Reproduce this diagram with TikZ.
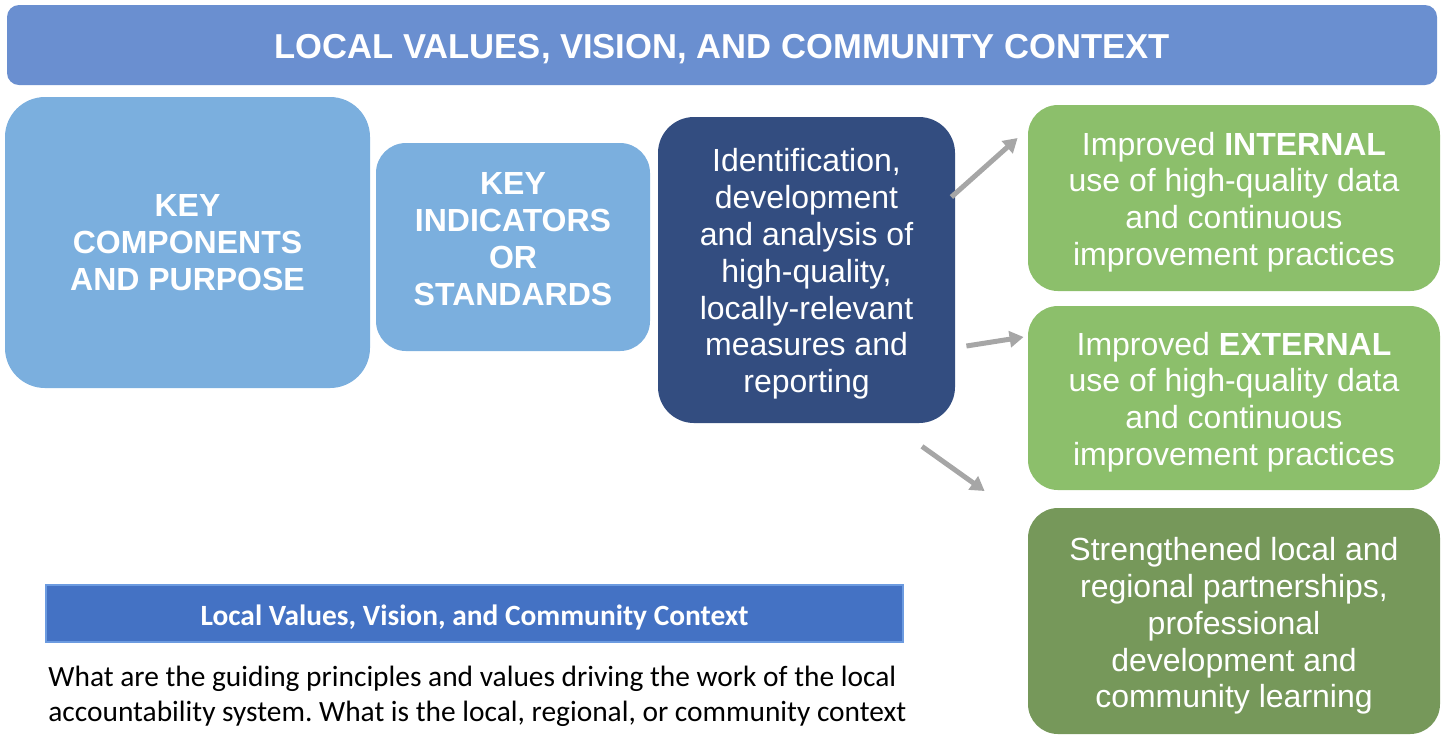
\documentclass[tikz,border=0pt]{standalone}
\usepackage{fontspec}
\setmainfont{Liberation Sans}
\newfontfamily\calibri{Carlito}
\usetikzlibrary{arrows.meta}
\frenchspacing

\definecolor{bannerblue}{HTML}{6A8FD0}
\definecolor{keyblue}{HTML}{7BAFDE}
\definecolor{navy}{HTML}{334D80}
\definecolor{lightgreen}{HTML}{8CBF6B}
\definecolor{darkgreen}{HTML}{76985A}
\definecolor{barblue}{HTML}{4472C4}
\definecolor{barline}{HTML}{6C9BE0}
\definecolor{arrowgray}{HTML}{A6A6A6}

\newcommand{\topgap}[1]{\rule{0pt}{#1}}

\begin{document}
\begin{tikzpicture}[x=0.5pt,y=-0.5pt,
banner/.style={rounded corners=6pt, fill=bannerblue, text=white, minimum width=715pt, minimum height=40pt, font=\bfseries\fontsize{17.3pt}{20pt}\selectfont},
keybox/.style={rounded corners=18pt, fill=keyblue, text=white, align=center, font=\bfseries\fontsize{16pt}{18.4pt}\selectfont},
measure/.style={rounded corners=18pt, fill=navy, text=white, align=center, minimum width=148.5pt, minimum height=153pt, font=\fontsize{16pt}{18.4pt}\selectfont},
outcome/.style={rounded corners=15pt, fill=lightgreen, text=white, align=center, minimum width=206pt, font=\fontsize{16pt}{18.4pt}\selectfont},
topstrut/.style={execute at begin node={\rule{0pt}{#1}}},
bottomstrut/.style={execute at end node={\rule[-#1]{0pt}{#1}}},
flow/.style={draw=arrowgray, line width=2.5pt, -{Triangle[length=7pt,width=8pt]}}
]
\useasboundingbox (0,0) rectangle (1445,736);

\node[banner, topstrut=16.4pt](context) at (722,45){LOCAL VALUES, VISION, AND COMMUNITY CONTEXT};

\node[keybox, minimum width=182.5pt, minimum height=145.5pt, rounded corners=20pt](components) at (187.5,242.5){KEY\\COMPONENTS\\AND PURPOSE};
\node[keybox, minimum width=137pt, minimum height=104pt, rounded corners=15pt, bottomstrut=8pt](indicators) at (513,247){KEY\\INDICATORS\\OR\\STANDARDS};

\node[measure](measures) at (806.5,270){\topgap{15.7pt}Identification,\\development\\and analysis of\\high-quality,\\locally-relevant\\measures and\\reporting};

\node[outcome, minimum height=93pt](internal) at (1234,198){\topgap{15.7pt}Improved \textbf{INTERNAL}\\use of high-quality data\\and continuous\\improvement practices};
\node[outcome, minimum height=92pt](external) at (1234,398){\topgap{15.7pt}Improved \textbf{EXTERNAL}\\use of high-quality data\\and continuous\\improvement practices};
\node[outcome, fill=darkgreen, minimum height=113pt](partners) at (1234,621){\topgap{16.7pt}Strengthened local and\\regional partnerships,\\professional\\development and\\community learning};

\draw[flow] ([shift={(-4,-73)}]measures.east) -- ([shift={(-10,-60)}]internal.west);
\draw[flow] ([shift={(11,76)}]measures.east) -- ([shift={(-4,-61)}]external.west);
\draw[flow] ([shift={(115.5,23)}]measures.south) -- ([shift={(-43,-130)}]partners.west);

% legend box below
\node[fill=barblue, draw=barline, line width=0.8pt, text=white, minimum width=428.5pt, minimum height=28.5pt, topstrut=14pt, font=\calibri\bfseries\fontsize{14.7pt}{17pt}\selectfont](legend) at (474.5,613.5){Local Values, Vision, and Community Context};
\node[anchor=base west, align=left, inner sep=0pt, font=\calibri\fontsize{14.7pt}{17.5pt}\selectfont](question) at (48,721){What are the guiding principles and values driving the work of the local\\accountability system. What is the local, regional, or community context};
\end{tikzpicture}
\end{document}
